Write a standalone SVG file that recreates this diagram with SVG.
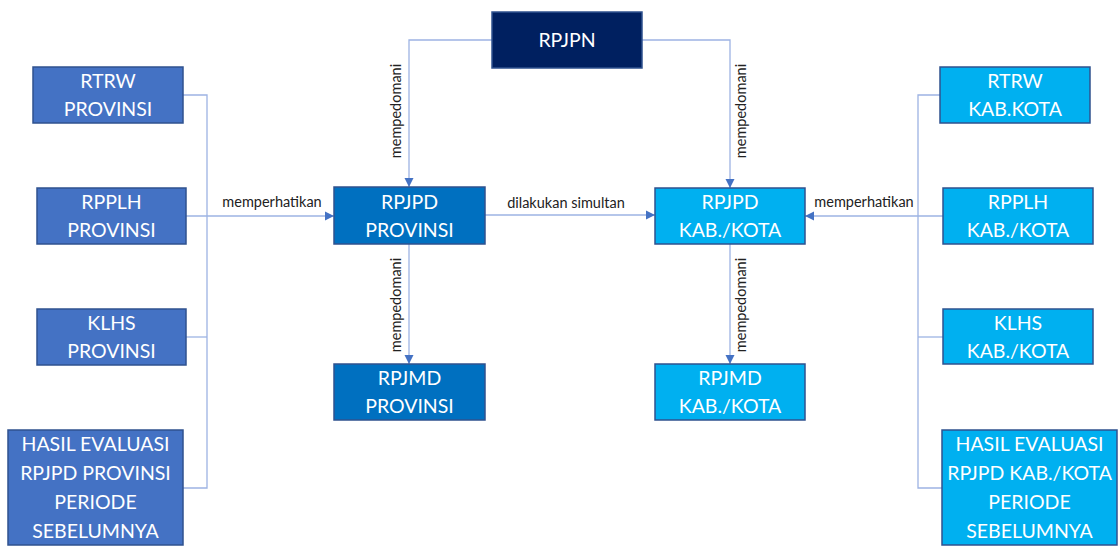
<svg xmlns="http://www.w3.org/2000/svg" width="1120" height="546" viewBox="0 0 1120 546">
<defs>
<style>
.box{stroke:#2F528F;stroke-width:1.5}
.b1{fill:#4472C4}
.b2{fill:#0070C0}
.b3{fill:#00B0F0}
.b4{fill:#002060}
.t{font-family:Lato,"Liberation Sans",Arial,sans-serif;font-size:19.5px;fill:#FFFFFF;text-anchor:middle}
.lbl{font-family:Lato,"Liberation Sans",Arial,sans-serif;font-size:14.5px;fill:#222222;text-anchor:middle}
.ln{fill:none;stroke:#9DB3E3;stroke-width:1.3}
</style>
<marker id="ah" markerWidth="10" markerHeight="10" refX="9" refY="5" orient="auto" markerUnits="userSpaceOnUse">
<path d="M0,0.5 L9,5 L0,9.5 Z" fill="#4472C4"/>
</marker>
</defs>
<rect width="1120" height="546" fill="#FFFFFF"/>
<g id="connectors">
<path class="ln" d="M492,40 H409 V187" marker-end="url(#ah)"/>
<path class="ln" d="M642,40 H730 V188" marker-end="url(#ah)"/>
<path class="ln" d="M485,215 H655" marker-end="url(#ah)"/>
<path class="ln" d="M409,244 V364" marker-end="url(#ah)"/>
<path class="ln" d="M730,244 V364" marker-end="url(#ah)"/>
<path class="ln" d="M183,95 H207 V488 H183"/>
<path class="ln" d="M186,337 H207"/>
<path class="ln" d="M186,216 H334" marker-end="url(#ah)"/>
<path class="ln" d="M940,95 H918 V488 H942"/>
<path class="ln" d="M943,337 H918"/>
<path class="ln" d="M943,216 H805" marker-end="url(#ah)"/>
<text class="lbl" transform="translate(401,111) rotate(-90)">mempedomani</text>
<text class="lbl" transform="translate(746,111) rotate(-90)">mempedomani</text>
<text class="lbl" transform="translate(401,305) rotate(-90)">mempedomani</text>
<text class="lbl" transform="translate(746,305) rotate(-90)">mempedomani</text>
<text class="lbl" x="566" y="208">dilakukan simultan</text>
<text class="lbl" x="272" y="207">memperhatikan</text>
<text class="lbl" x="864" y="207">memperhatikan</text>
</g>
<g id="rpjpn"><rect class="box b4" x="492" y="12" width="150" height="56"/><text class="t" x="567" y="47">RPJPN</text></g>
<g id="rpjpd-prov"><rect class="box b2" x="334" y="187" width="151" height="57"/><text class="t" x="409.5" y="209">RPJPD</text><text class="t" x="409.5" y="237">PROVINSI</text></g>
<g id="rpjpd-kab"><rect class="box b3" x="655" y="188" width="150" height="56"/><text class="t" x="730" y="209">RPJPD</text><text class="t" x="730" y="237">KAB./KOTA</text></g>
<g id="rpjmd-prov"><rect class="box b2" x="334" y="364" width="151" height="56"/><text class="t" x="409.5" y="385">RPJMD</text><text class="t" x="409.5" y="413">PROVINSI</text></g>
<g id="rpjmd-kab"><rect class="box b3" x="655" y="364" width="150" height="56"/><text class="t" x="730" y="385">RPJMD</text><text class="t" x="730" y="413">KAB./KOTA</text></g>
<g id="rtrw-prov"><rect class="box b1" x="33" y="67" width="150" height="56"/><text class="t" x="108" y="88">RTRW</text><text class="t" x="108" y="116">PROVINSI</text></g>
<g id="rpplh-prov"><rect class="box b1" x="37" y="188" width="149" height="56"/><text class="t" x="111.5" y="209">RPPLH</text><text class="t" x="111.5" y="237">PROVINSI</text></g>
<g id="klhs-prov"><rect class="box b1" x="37" y="309" width="149" height="56"/><text class="t" x="111.5" y="330">KLHS</text><text class="t" x="111.5" y="358">PROVINSI</text></g>
<g id="hasil-prov"><rect class="box b1" x="8" y="430" width="175" height="115"/><text class="t" x="95.5" y="451">HASIL EVALUASI</text><text class="t" x="95.5" y="480">RPJPD PROVINSI</text><text class="t" x="95.5" y="509">PERIODE</text><text class="t" x="95.5" y="538">SEBELUMNYA</text></g>
<g id="rtrw-kab"><rect class="box b3" x="940" y="67" width="150" height="56"/><text class="t" x="1015" y="88">RTRW</text><text class="t" x="1015" y="116">KAB.KOTA</text></g>
<g id="rpplh-kab"><rect class="box b3" x="943" y="188" width="150" height="56"/><text class="t" x="1018" y="209">RPPLH</text><text class="t" x="1018" y="237">KAB./KOTA</text></g>
<g id="klhs-kab"><rect class="box b3" x="943" y="309" width="150" height="55"/><text class="t" x="1018" y="330">KLHS</text><text class="t" x="1018" y="358">KAB./KOTA</text></g>
<g id="hasil-kab"><rect class="box b3" x="942" y="430" width="175" height="115"/><text class="t" x="1029.5" y="451">HASIL EVALUASI</text><text class="t" x="1029.5" y="480">RPJPD KAB./KOTA</text><text class="t" x="1029.5" y="509">PERIODE</text><text class="t" x="1029.5" y="538">SEBELUMNYA</text></g>
</svg>
